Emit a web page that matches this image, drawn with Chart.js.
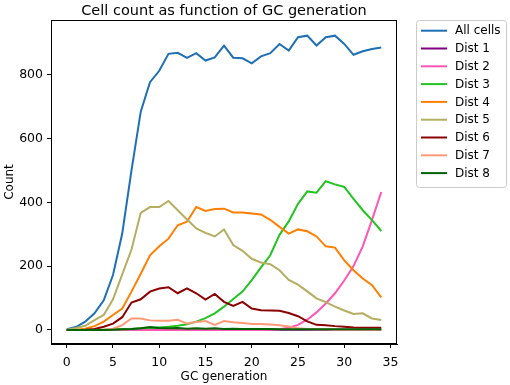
<!DOCTYPE html>
<html lang="en">
<head>
  <meta charset="UTF-8" />
  <title>Cell count as function of GC generation</title>
  <script src="https://cdn.jsdelivr.net/npm/chart.js"></script>
  <style>
    html, body { margin: 0; padding: 0; background: #fff; }
    canvas { display: block; }
  </style>
</head>
<body>
  <canvas id="cellChart" width="510" height="385"></canvas>

  <script>
    // values
    const generations = [0, 1, 2, 3, 4, 5, 6, 7, 8, 9, 10, 11, 12, 13, 14, 15, 16, 17, 18, 19, 20, 21, 22, 23, 24, 25, 26, 27, 28, 29, 30, 31, 32, 33, 34];
    const allCells = [2, 9, 26, 52, 93, 172, 302, 500, 684, 776, 812, 865, 868, 852, 867, 844, 854, 891, 853, 851, 835, 857, 867, 896, 875, 917, 922, 891, 917, 922, 896, 862, 873, 880, 885];
    const dist1 = [0, 0, 0, 0, 0, 0, 1, 1, 1, 2, 2, 1, 2, 1, 1, 2, 1, 1, 1, 1, 1, 1, 1, 1, 1, 1, 1, 1, 1, 1, 1, 1, 1, 1, 1];
    const dist2 = [0, 0, 0, 0, 0, 0, 0, 0, 0, 0, 0, 0, 0, 0, 0, 0, 0, 0, 0, 0, 0, 0, 1, 2, 7, 16, 32, 55, 83, 115, 155, 200, 262, 345, 432];
    const dist3 = [0, 0, 0, 1, 1, 2, 2, 3, 5, 6, 8, 10, 13, 18, 26, 37, 52, 73, 97, 120, 156, 196, 234, 298, 340, 395, 434, 430, 466, 456, 448, 411, 375, 344, 310];
    const dist4 = [0, 1, 4, 12, 26, 47, 67, 120, 176, 234, 262, 286, 328, 339, 385, 373, 379, 380, 368, 368, 365, 362, 345, 323, 302, 315, 309, 293, 262, 258, 218, 187, 161, 140, 102];
    const dist5 = [1, 6, 13, 31, 47, 96, 174, 252, 367, 385, 385, 404, 375, 346, 318, 304, 293, 315, 266, 248, 223, 211, 206, 187, 157, 142, 121, 99, 87, 73, 61, 50, 52, 36, 31];
    const dist6 = [0, 0, 1, 3, 10, 20, 40, 86, 96, 120, 130, 134, 115, 130, 115, 95, 113, 88, 75, 88, 67, 62, 61, 60, 53, 43, 27, 16, 15, 12, 10, 8, 7, 7, 7];
    const dist7 = [0, 0, 0, 0, 1, 4, 15, 36, 36, 30, 29, 29, 32, 20, 25, 28, 16, 28, 24, 22, 19, 19, 17, 15, 11, 5, 3, 2, 2, 1, 1, 1, 1, 1, 1];
    const dist8 = [0, 0, 0, 0, 0, 1, 2, 3, 5, 9, 6, 5, 6, 4, 5, 4, 5, 3, 4, 3, 3, 3, 3, 2, 2, 2, 2, 2, 2, 2, 2, 2, 2, 2, 2];

    const seriesNames = ['All cells', 'Dist 1', 'Dist 2', 'Dist 3', 'Dist 4', 'Dist 5', 'Dist 6', 'Dist 7', 'Dist 8'];
    const seriesValues = [allCells, dist1, dist2, dist3, dist4, dist5, dist6, dist7, dist8];
    const seriesColors = ['#1f6fb4', '#800080', '#ff55b4', '#22c422', '#ff7f00', '#b5ad60', '#8b0000', '#ff9a78', '#006400'];

    const xTicks = [0, 5, 10, 15, 20, 25, 30, 35];
    const yTicks = [0, 200, 400, 600, 800];

    const FONT = '"DejaVu Sans", sans-serif';

    // box round the plot, titles and the matplotlib style legend
    const decorations = {
      id: 'decorations',
      afterDraw(chart) {
        const { ctx, chartArea: a } = chart;
        ctx.save();
        ctx.strokeStyle = '#000';
        ctx.lineWidth = 1;
        ctx.strokeRect(a.left + 0.5, a.top + 0.5, a.right - a.left - 1, a.bottom - a.top - 1);

        ctx.fillStyle = '#000';
        ctx.textAlign = 'center';
        ctx.textBaseline = 'alphabetic';
        ctx.font = '14.5px ' + FONT;
        ctx.fillText('Cell count as function of GC generation', (a.left + a.right) / 2, 15);

        ctx.font = '12px ' + FONT;
        ctx.fillText('GC generation', (a.left + a.right) / 2, 380);

        ctx.save();
        ctx.translate(12.5, (a.top + a.bottom) / 2);
        ctx.rotate(-Math.PI / 2);
        ctx.fillText('Count', 0, 0);
        ctx.restore();

        // legend
        const lx = 416.5, ly = 20.5, lw = 90, lh = 167;
        ctx.beginPath();
        ctx.roundRect(lx, ly, lw, lh, 3);
        ctx.fillStyle = 'rgba(255,255,255,0.8)';
        ctx.fill();
        ctx.strokeStyle = '#cccccc';
        ctx.stroke();

        ctx.textAlign = 'left';
        ctx.textBaseline = 'middle';
        chart.data.datasets.forEach((ds, k) => {
          const y = 30.7 + k * 17.8;
          ctx.strokeStyle = ds.borderColor;
          ctx.lineWidth = 2;
          ctx.beginPath();
          ctx.moveTo(421, y);
          ctx.lineTo(447, y);
          ctx.stroke();
          ctx.fillStyle = '#000';
          ctx.fillText(ds.label, 455, y + 0.5);
        });
        ctx.restore();
      }
    };

    new Chart(document.getElementById('cellChart'), {
      type: 'line',
      data: {
        datasets: seriesValues.map((vals, k) => ({
          label: seriesNames[k],
          data: vals.map((v, i) => ({ x: generations[i], y: v })),
          borderColor: seriesColors[k],
          backgroundColor: seriesColors[k],
          borderWidth: 2,
          pointRadius: 0,
          tension: 0,
          fill: false,
          order: seriesNames.length - k
        }))
      },
      options: {
        responsive: false,
        animation: false,
        devicePixelRatio: 1,
        layout: { padding: { top: 20, right: 113, left: 0, bottom: 0 } },
        plugins: {
          legend: { display: false },
          title: { display: false },
          tooltip: { enabled: false }
        },
        scales: {
          x: {
            type: 'linear',
            min: -1.7,
            max: 35.7,
            afterBuildTicks: (scale) => { scale.ticks = xTicks.map(v => ({ value: v })); },
            afterFit: (scale) => { scale.height = 41; },
            ticks: { color: '#000', font: { family: FONT, size: 12.5 }, padding: 7, maxRotation: 0 },
            grid: { drawOnChartArea: false, tickLength: 4, color: '#000' },
            border: { color: '#000' }
          },
          y: {
            type: 'linear',
            min: -44,
            max: 971,
            afterBuildTicks: (scale) => { scale.ticks = yTicks.map(v => ({ value: v })); },
            afterFit: (scale) => { scale.width = 51; },
            ticks: { color: '#000', font: { family: FONT, size: 12.5 }, padding: 4 },
            grid: { drawOnChartArea: false, tickLength: 4, color: '#000' },
            border: { color: '#000' }
          }
        }
      },
      plugins: [decorations]
    });
  </script>
</body>
</html>
